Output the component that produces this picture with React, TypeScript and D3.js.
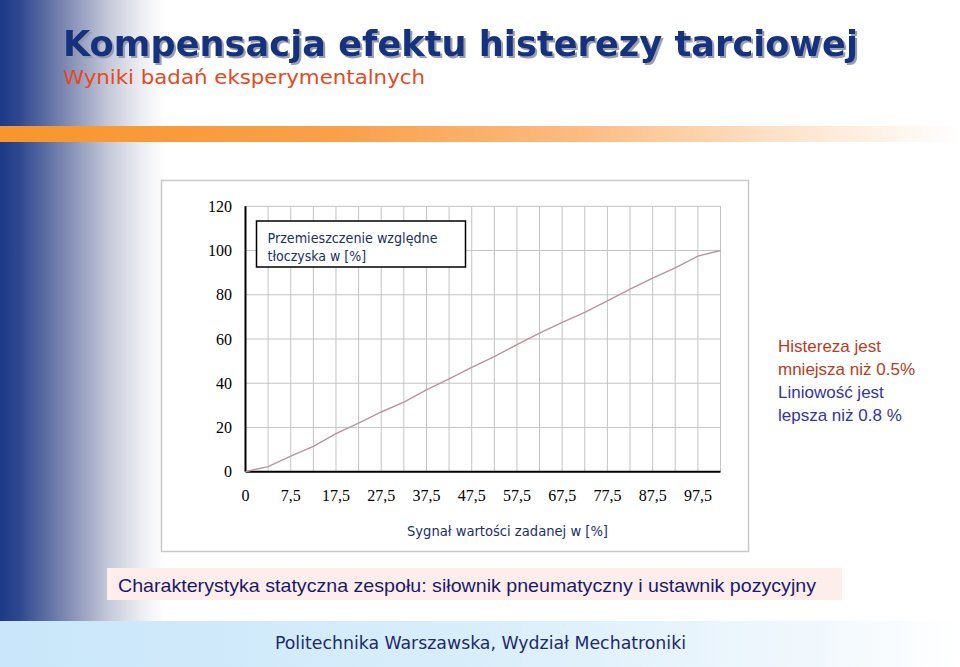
import React from "react";
import { scalePoint, scaleLinear, line } from "d3";

// Dane
const xCategories = [
  "0", "2,5", "7,5", "12,5", "17,5", "22,5", "27,5", "32,5", "37,5", "42,5", "47,5",
  "52,5", "57,5", "62,5", "67,5", "72,5", "77,5", "82,5", "87,5", "92,5", "97,5", "100",
];
const displacement = [
  0, 2.3, 7, 11.5, 17.2, 22, 27, 31.5, 37, 42, 47.2,
  52, 57.5, 62.7, 67.5, 72, 77.2, 82.5, 87.5, 92.2, 97.5, 100,
];
const yTicks = [0, 20, 40, 60, 80, 100, 120];
const xLabelEvery = 2;

const title = "Kompensacja efektu histerezy tarciowej";
const subtitle = "Wyniki badań eksperymentalnych";
const legendLines = ["Przemieszczenie względne", "tłoczyska w [%]"];
const xTitle = "Sygnał wartości zadanej w [%]";
const noteRed = ["Histereza jest", "mniejsza niż 0.5%"];
const noteBlue = ["Liniowość jest", "lepsza niż 0.8 %"];
const caption = "Charakterystyka statyczna zespołu: siłownik pneumatyczny i ustawnik pozycyjny";
const footer = "Politechnika Warszawska, Wydział Mechatroniki";

const W = 960;
const H = 667;
const condensed = "'DejaVu Sans Condensed', 'DejaVu Sans', sans-serif";
const serif = "'Liberation Serif', 'Times New Roman', serif";
const arial = "'Liberation Sans', Arial, sans-serif";

const App: React.FC = () => {
  const x = scalePoint<string>().domain(xCategories).range([245.5, 720.5]);
  const y = scaleLinear().domain([0, 120]).range([471.7, 206.3]);

  const path = line<number>()
    .x((_, i) => x(xCategories[i])!)
    .y((d) => y(d))(displacement);

  const [x0, x1] = x.range();

  return (
    <>
      <style>{"body{margin:0}"}</style>
      <svg width={W} height={H} viewBox={`0 0 ${W} ${H}`} style={{ display: "block" }}>
        <defs>
          <linearGradient id="leftBlue" x1="0" x2="1" y1="0" y2="0">
            <stop offset="0" stopColor="#1b3987" />
            <stop offset="0.12" stopColor="#2f4890" />
            <stop offset="0.4" stopColor="#7f8ab3" />
            <stop offset="0.65" stopColor="#c3c7d8" />
            <stop offset="0.85" stopColor="#ecedf2" />
            <stop offset="1" stopColor="#ffffff" />
          </linearGradient>
          <linearGradient id="orange" x1="0" x2="1" y1="0" y2="0">
            <stop offset="0" stopColor="#f8962c" />
            <stop offset="0.35" stopColor="#f9a04a" />
            <stop offset="0.6" stopColor="#fbbb80" />
            <stop offset="0.8" stopColor="#fde0c6" />
            <stop offset="1" stopColor="#ffffff" />
          </linearGradient>
          <linearGradient id="footerBlue" x1="0" x2="1" y1="0" y2="0">
            <stop offset="0" stopColor="#c9e6fa" />
            <stop offset="0.5" stopColor="#d9eefb" />
            <stop offset="0.85" stopColor="#f1f8fd" />
            <stop offset="1" stopColor="#ffffff" />
          </linearGradient>
          <filter id="titleShadow" x="-5%" y="-20%" width="110%" height="150%">
            <feDropShadow dx={2} dy={2} stdDeviation={0.6} floodColor="#8f96ac" floodOpacity={0.9} />
          </filter>
        </defs>

        <rect width={W} height={H} fill="#ffffff" />
        {/* Pasek boczny i stopka */}
        <rect x={0} y={0} width={165} height={621} fill="url(#leftBlue)" />
        <rect x={0} y={621} width={W} height={46} fill="url(#footerBlue)" />
        {/* Pomarańczowy pasek */}
        <rect x={0} y={126} width={W} height={16} fill="url(#orange)" />

        {/* Tytuł */}
        <text
          x={63}
          y={56}
          fontFamily={condensed}
          fontWeight="bold"
          fontSize={35}
          fill="#13337f"
          textLength={795}
          lengthAdjust="spacingAndGlyphs"
          filter="url(#titleShadow)"
        >
          {title}
        </text>
        <text
          x={63}
          y={84}
          fontFamily={condensed}
          fontSize={20}
          fill="#e54a1e"
          textLength={362}
          lengthAdjust="spacingAndGlyphs"
        >
          {subtitle}
        </text>

        {/* Ramka wykresu */}
        <rect x={161.5} y={180.5} width={587} height={371} fill="#ffffff" stroke="#c8c8c8" strokeWidth={1.5} />

        {/* Siatka */}
        {xCategories.map((c) => (
          <line key={c} x1={x(c)} x2={x(c)} y1={y(120)} y2={y(0)} stroke="#c4c4c4" strokeWidth={1} />
        ))}
        {yTicks.map((t) => (
          <line key={t} x1={x0} x2={x1} y1={y(t)} y2={y(t)} stroke="#c4c4c4" strokeWidth={1} />
        ))}

        {/* Osie */}
        <line x1={x0} x2={x0} y1={y(120)} y2={y(0)} stroke="#000" strokeWidth={2} />
        <line x1={x0} x2={x1} y1={y(0)} y2={y(0)} stroke="#000" strokeWidth={2} />

        {/* Linia danych */}
        <path d={path ?? ""} fill="none" stroke="#b8959b" strokeWidth={1.4} />

        {/* Etykiety osi Y */}
        {yTicks.map((t) => (
          <text
            key={t}
            x={232}
            y={y(t)}
            dy="0.35em"
            textAnchor="end"
            fontFamily={serif}
            fontSize={16}
            fill="#000"
          >
            {t}
          </text>
        ))}

        {/* Etykiety osi X */}
        {xCategories.map((c, i) =>
          i % xLabelEvery === 0 ? (
            <text
              key={c}
              x={x(c)}
              y={501}
              textAnchor="middle"
              fontFamily={serif}
              fontSize={16}
              fill="#000"
            >
              {c}
            </text>
          ) : null
        )}

        {/* Legenda */}
        <rect x={256.5} y={221} width={209} height={46} fill="#ffffff" stroke="#000" strokeWidth={1.5} />
        <text x={267.5} y={243} fontFamily={condensed} fontSize={14} fill="#1b2f6d" textLength={170} lengthAdjust="spacingAndGlyphs">
          {legendLines[0]}
        </text>
        <text x={267.5} y={261} fontFamily={condensed} fontSize={14} fill="#1b2f6d">
          {legendLines[1]}
        </text>

        {/* Tytuł osi X */}
        <text
          x={507.5}
          y={536}
          textAnchor="middle"
          fontFamily={condensed}
          fontSize={14}
          fill="#1b2f6d"
          textLength={201}
          lengthAdjust="spacingAndGlyphs"
        >
          {xTitle}
        </text>

        {/* Uwagi */}
        {noteRed.map((s, i) => (
          <text key={s} x={778} y={352 + i * 23} fontFamily={arial} fontSize={17} fill="#b83c22">
            {s}
          </text>
        ))}
        {noteBlue.map((s, i) => (
          <text key={s} x={778} y={398 + i * 23} fontFamily={arial} fontSize={17} fill="#3434a6">
            {s}
          </text>
        ))}

        {/* Podpis */}
        <rect x={107} y={568} width={735} height={32} fill="#fdeeec" />
        <text x={118} y={592} fontFamily={arial} fontSize={19} fill="#1a1a6c" textLength={698} lengthAdjust="spacingAndGlyphs">
          {caption}
        </text>

        {/* Stopka */}
        <text
          x={480.5}
          y={649}
          textAnchor="middle"
          fontFamily={condensed}
          fontSize={18}
          fill="#1c2a6c"
          textLength={411}
          lengthAdjust="spacingAndGlyphs"
        >
          {footer}
        </text>
      </svg>
    </>
  );
};

export default App;
